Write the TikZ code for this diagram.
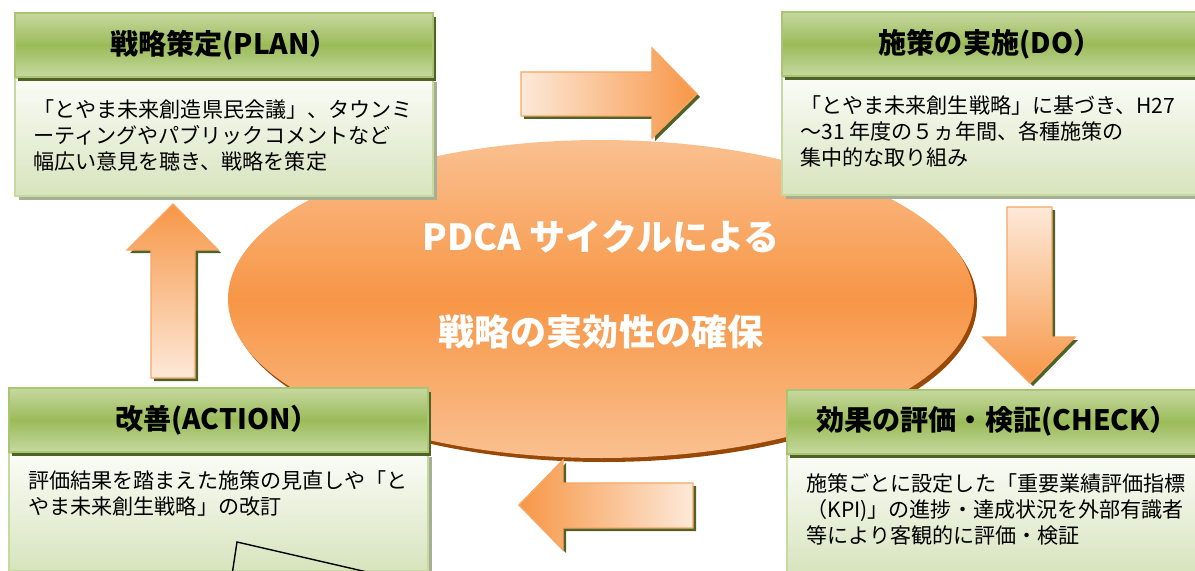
\documentclass[tikz,border=0pt]{standalone}
\usepackage{fontspec}
\setmainfont{Noto Sans CJK JP}
\usetikzlibrary{calc}

\definecolor{hdgreen}{HTML}{9BBB59}
\definecolor{hdlight}{HTML}{C6D9A0}
\definecolor{olivedark}{HTML}{4F6228}
\definecolor{bodytop}{HTML}{FBFCF8}
\definecolor{bodybot}{HTML}{D7E4BD}
\definecolor{bodyshadow}{HTML}{A6AE94}
\definecolor{orangemid}{HTML}{F79646}
\definecolor{orangelight}{HTML}{FAC090}
\definecolor{orangepale}{HTML}{FDE9D9}
\definecolor{brownshadow}{HTML}{984807}

\begin{document}
\begin{tikzpicture}[x=0.2mm,y=-0.2mm]
\tikzstyle{header}=[top color=hdlight,bottom color=hdlight,middle color=hdgreen,draw=hdgreen!85!white,line width=0.6pt]
\tikzstyle{body}=[top color=bodytop,bottom color=bodybot,draw=hdlight,line width=0.6pt]
\tikzstyle{title}=[inner sep=0pt,font=\bfseries\fontsize{16}{19}\selectfont]
\tikzstyle{note}=[anchor=north west,align=left,inner sep=0pt,font=\fontsize{12}{14.8}\selectfont]
\tikzstyle{coretext}=[inner sep=0pt,text=white,font=\bfseries\fontsize{20.5}{24}\selectfont]
\tikzstyle{blockarrow}=[draw=orangemid!85!white,line width=0.8pt]

\useasboundingbox (0,0) rectangle (1195,571);
\clip (0,0) rectangle (1195,571);

% central ellipse
\fill[brownshadow] (604,303) ellipse (373 and 159);
\shade[top color=orangelight,bottom color=orangelight,middle color=orangemid] (601,299) ellipse (373 and 159);
\node[coretext] (cycle) at (601,237) {PDCA サイクルによる};
\node[coretext] (effect) at (601,332) {戦略の実効性の確保};

% block arrows
\fill[olivedark,shift={(3,3)}] (521,72)--(652,72)--(652,48)--(697,94)--(652,138)--(652,116)--(521,116)--cycle;
\shade[blockarrow,left color=orangepale,right color=orangemid] (521,72)--(652,72)--(652,48)--(697,94)--(652,138)--(652,116)--(521,116)--cycle;
\fill[olivedark,shift={(3,3)}] (1007,207)--(1052,207)--(1052,337)--(1075,337)--(1030,383)--(983,337)--(1007,337)--cycle;
\shade[blockarrow,top color=orangepale,bottom color=orangemid] (1007,207)--(1052,207)--(1052,337)--(1075,337)--(1030,383)--(983,337)--(1007,337)--cycle;
\fill[olivedark,shift={(3,3)}] (693,483)--(563,483)--(563,460)--(519,505)--(563,550)--(563,528)--(693,528)--cycle;
\shade[blockarrow,left color=orangemid,right color=orangepale] (693,483)--(563,483)--(563,460)--(519,505)--(563,550)--(563,528)--(693,528)--cycle;
\fill[olivedark,shift={(3,3)}] (151,378)--(151,250)--(127,250)--(173,204)--(218,250)--(195,250)--(195,378)--cycle;
\shade[blockarrow,top color=orangemid,bottom color=orangepale] (151,378)--(151,250)--(127,250)--(173,204)--(218,250)--(195,250)--(195,378)--cycle;

% four panels
\foreach \bx/\by/\bw in {15/13/418, 782/12/430, 9/388/419, 787/390/430} {
  \fill[bodyshadow] (\bx+4,\by+69) rectangle ++(\bw,118);
  \path[body] (\bx,\by+65) rectangle ++(\bw,118);
  \fill[olivedark] (\bx+3,\by+4) rectangle ++(\bw,64);
  \path[header] (\bx,\by) rectangle ++(\bw,64);
}
\draw[thick] (232,575) -- (237,542) -- (380,575);

\node[title] (plan) at (224,45) {戦略策定(PLAN）};
\node[title] (do) at (990,44) {施策の実施(DO）};
\node[title] (act) at (217,420) {改善(ACTION）};
\node[title] (chk) at (997,421) {効果の評価・検証(CHECK）};

\node[note] (plantext) at (33,99) {「とやま未来創造県民会議」、タウンミ\\ーティングやパブリックコメントなど\\幅広い意見を聴き、戦略を策定};
\node[note] (dotext) at (800,95) {「とやま未来創生戦略」に基づき、H27\\～31 年度の５ヵ年間、各種施策の\\集中的な取り組み};
\node[note] (acttext) at (28,470) {評価結果を踏まえた施策の見直しや「と\\やま未来創生戦略」の改訂};
\node[note] (chktext) at (806,473) {施策ごとに設定した「重要業績評価指標\\（KPI)」の進捗・達成状況を外部有識者\\等により客観的に評価・検証};
\end{tikzpicture}
\end{document}
